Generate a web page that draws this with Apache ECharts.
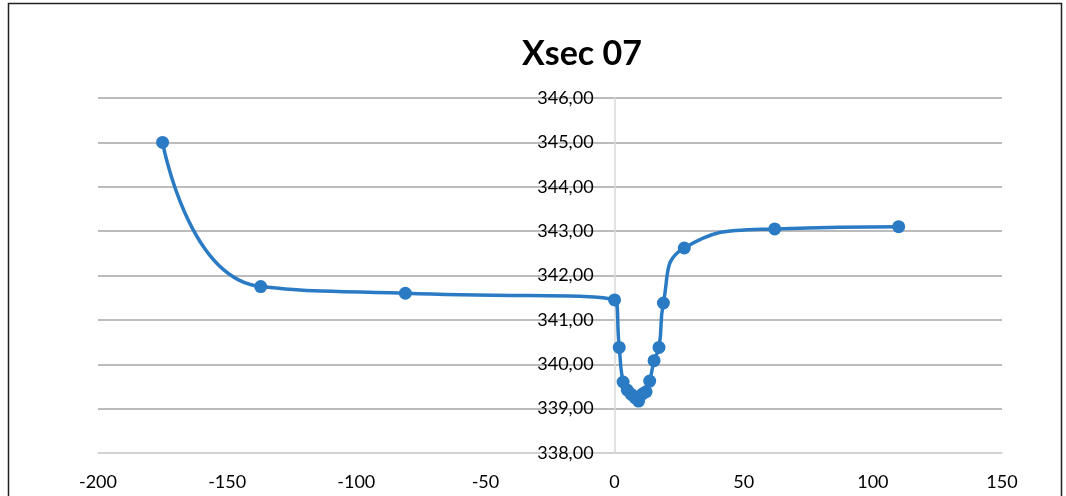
<!DOCTYPE html>
<html>
<head>
<meta charset="utf-8">
<script src="https://cdn.jsdelivr.net/npm/echarts@6/dist/echarts.min.js"></script>
<style>
html,body{margin:0;padding:0;background:#fff;}
#chart{width:1066px;height:496px;}
</style>
</head>
<body>
<div id="chart"></div>
<script>
const titleText = "Xsec 07";
const xValues = [-175, -137, -81, 0, 1.8, 3.3, 4.9, 6.5, 8.0, 9.3, 10.8, 12.2, 13.6, 15.3, 17.2, 18.9, 27, 62, 110];
const yValues = [345.00, 341.75, 341.60, 341.45, 340.38, 339.60, 339.42, 339.32, 339.24, 339.17, 339.33, 339.38, 339.62, 340.08, 340.38, 341.38, 342.62, 343.05, 343.10];
const xTicks = {min: -200, max: 150, interval: 50};
const yTicks = {min: 338, max: 346, interval: 1};

const W = 1066, gridLeft = 98, gridRight = 64;
const gridWidth = W - gridLeft - gridRight;
// place the vertical axis where x = 0 (Excel "crosses at 0")
const yAxisOffset = -((0 - xTicks.min) / (xTicks.max - xTicks.min)) * gridWidth;

const points = xValues.map((x, i) => [x, yValues[i]]);
const chart = echarts.init(document.getElementById('chart'), null, {renderer: 'canvas'});
chart.setOption({
  animation: false,
  backgroundColor: '#ffffff',
  title: {
    text: titleText,
    left: 577, top: 32, textAlign: 'center',
    textStyle: {fontFamily: 'Lato', fontWeight: 'bold', fontSize: 34, color: '#000'}
  },
  graphic: [{
    type: 'rect', silent: true,
    shape: {x: 8.5, y: 3.5, width: 1053, height: 600},
    style: {fill: 'none', stroke: '#222', lineWidth: 1.5}
  }],
  grid: {left: gridLeft, right: gridRight, top: 98, bottom: 43},
  xAxis: {
    type: 'value', min: xTicks.min, max: xTicks.max, interval: xTicks.interval,
    axisLine: {show: true, lineStyle: {color: '#d9d9d9', width: 1.5}},
    axisTick: {show: false},
    splitLine: {show: false},
    axisLabel: {margin: 20, fontFamily: 'Lato', fontSize: 18, color: '#000'}
  },
  yAxis: {
    type: 'value', min: yTicks.min, max: yTicks.max, interval: yTicks.interval,
    position: 'left', offset: yAxisOffset,
    axisLine: {show: true, onZero: false, lineStyle: {color: '#d9d9d9', width: 1.5}},
    axisTick: {show: false},
    splitLine: {show: true, lineStyle: {color: '#a6a6a6', width: 1.5}},
    axisLabel: {margin: 21, fontFamily: 'Lato', fontSize: 18, color: '#000',
      formatter: v => v.toFixed(2).replace('.', ',')}
  },
  series: [{
    type: 'line', data: points, smooth: 0.55,
    symbol: 'circle', symbolSize: 13,
    lineStyle: {color: '#2a7bc4', width: 3.5},
    itemStyle: {color: '#2a7bc4'},
    z: 5
  }]
});
</script>
</body>
</html>
